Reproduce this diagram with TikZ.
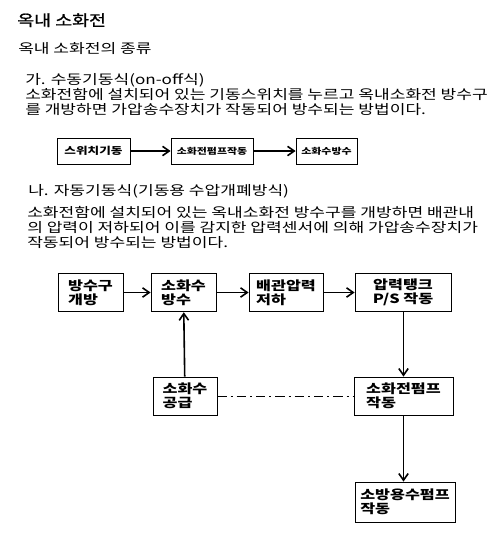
\documentclass[tikz,border=0pt]{standalone}
\usepackage{fontspec}
\setmainfont[FakeStretch=1.28]{Noto Sans CJK KR}
\newfontfamily\titlefont[FakeStretch=1.2,FakeBold=1.2]{Noto Sans CJK KR}
\usetikzlibrary{arrows.meta}
\begin{document}
\begin{tikzpicture}[x=0.75pt,y=0.75pt,yscale=-1,xscale=1,
  txt/.style={anchor=north west,inner sep=0pt,align=left,font=\fontsize{10}{11.25}\selectfont},
  sbox/.style={draw,line width=0.6pt,inner sep=1pt,minimum height=19.5pt,font=\fontsize{6.4}{8}\selectfont\bfseries},
  bbox/.style={draw,line width=0.6pt,align=left,minimum height=29pt,font=\fontsize{9.5}{10.5}\selectfont\bfseries},
  flow/.style={-{Straight Barb[length=5pt,width=7pt]},line width=1.2pt}]
\useasboundingbox (0,0) rectangle (500,554);

% Text Node
\draw (17,13) node [anchor=north west][inner sep=0pt]  {\titlefont\fontsize{11.5}{14}\selectfont 옥내 소화전};
% Text Node
\draw (18,42) node [txt]  {옥내 소화전의 종류};
% Text Node
\draw (25,73) node [txt]  {가. 수동기동식(on-off식)\\소화전함에 설치되어 있는 기동스위치를 누르고 옥내소화전 방수구\\를 개방하면 가압송수장치가 작동되어 방수되는 방법이다.};

% small boxes
\node [sbox,minimum width=54.75pt,font=\fontsize{7.4}{8}\selectfont\bfseries] (swon) at (93.5,151) {스위치기동};
\node [sbox,minimum width=61.5pt] (pumpon) at (212,151) {소화전펌프작동};
\node [sbox,minimum width=45.75pt] (spray) at (326.5,151) {소화수방수};
\draw [flow] (swon) -- (pumpon);
\draw [flow] (pumpon) -- (spray);

% Text Node
\draw (28,184) node [txt]  {나. 자동기동식(기동용 수압개폐방식)};
% Text Node
\draw (27,206) node [txt]  {소화전함에 설치되어 있는 옥내소화전 방수구를 개방하면 배관내\\의 압력이 저하되어 이를 감지한 압력센서에 의해 가압송수장치가\\작동되어 방수되는 방법이다.};

% big boxes
\node [bbox,minimum width=48.75pt] (open) at (90.5,292.5) {방수구\\개방};
\node [bbox,minimum width=48.75pt] (water) at (183.5,292.5) {소화수\\방수};
\node [bbox,minimum width=55.5pt] (drop) at (286,292.5) {배관압력\\저하};
\node [bbox,minimum width=72pt,align=center] (tank) at (403,292.5) {압력탱크\\P/S 작동};
\node [bbox,minimum width=48pt,minimum height=28.5pt] (supply) at (185,396) {소화수\\공급};
\node [bbox,minimum width=74.25pt,minimum height=28.5pt] (hpump) at (403.5,396) {소화전펌프\\작동};
\node [bbox,minimum width=75pt,minimum height=30pt] (fpump) at (405,502) {소방용수펌프\\작동};

\draw [flow] (open) -- (water);
\draw [flow] (water) -- (drop);
\draw [flow] (drop) -- (tank);
\draw [flow] (supply) -- (water);
\draw [flow] (tank.south -| hpump.north) -- (hpump);
\draw [flow] (hpump) -- (hpump.south |- fpump.north);
\draw [line width=0.6pt,dash pattern=on 7pt off 3pt on 1.5pt off 3pt] (supply) -- (hpump);

\end{tikzpicture}
\end{document}
